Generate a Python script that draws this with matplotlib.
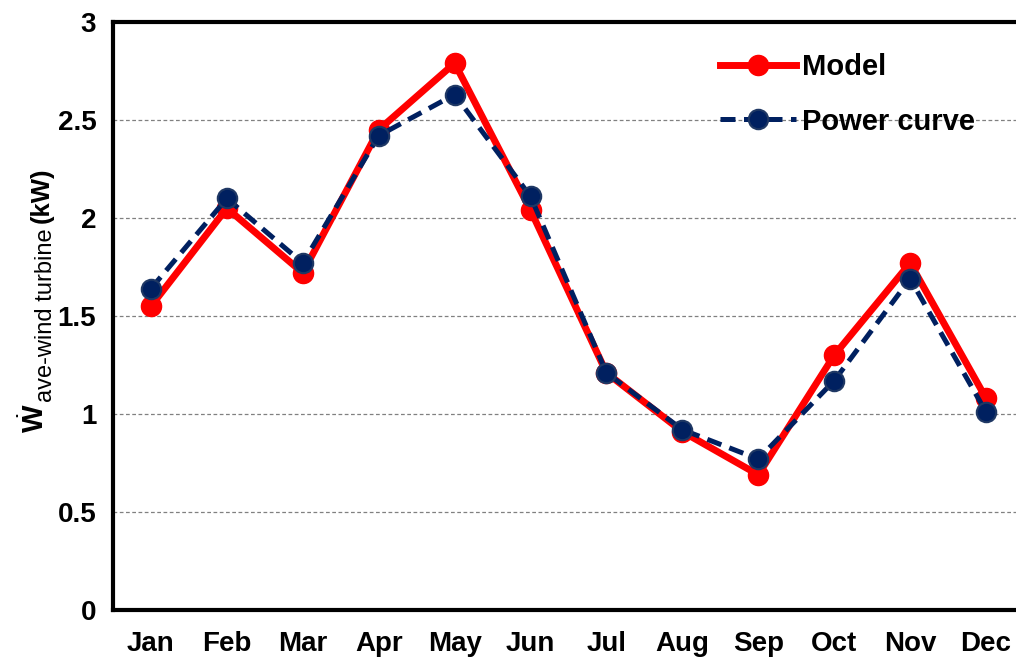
import matplotlib
matplotlib.use("Agg")
import matplotlib.pyplot as plt

months = ["Jan", "Feb", "Mar", "Apr", "May", "Jun", "Jul", "Aug", "Sep", "Oct", "Nov", "Dec"]
model = [1.55, 2.05, 1.72, 2.45, 2.79, 2.04, 1.21, 0.91, 0.69, 1.30, 1.77, 1.08]
power_curve = [1.64, 2.10, 1.77, 2.42, 2.63, 2.11, 1.21, 0.92, 0.77, 1.17, 1.69, 1.01]
yticks = [0, 0.5, 1, 1.5, 2, 2.5, 3]
ytick_labels = ["0", "0.5", "1", "1.5", "2", "2.5", "3"]

plt.rcParams['font.family'] = ['Liberation Sans', 'DejaVu Sans']
plt.rcParams['mathtext.fontset'] = 'custom'
plt.rcParams['mathtext.rm'] = 'Liberation Sans'
plt.rcParams['mathtext.bf'] = 'Liberation Sans:bold'
plt.rcParams['mathtext.it'] = 'Liberation Sans:italic'

W, H = 1016, 660
fig = plt.figure(figsize=(W / 100, H / 100), dpi=100)
ax = fig.add_axes([113 / W, 50 / H, 911 / W, 588 / H])

x = list(range(len(months)))
ax.plot(x, model, color='#FF0000', lw=5, marker='o', ms=14.5, mfc='#FF0000', mec='#FF0000',
        label='Model', zorder=3)
ax.plot(x, power_curve, color='#002060', lw=3.6, ls=(0, (3.0, 1.7)), marker='o', ms=14,
        mfc='#002060', mec='#1F3864', mew=1.5, label='Power curve', zorder=4)

ax.set_xlim(-0.5, 11.5)
ax.set_ylim(0, 3)
ax.set_yticks(yticks)
ax.set_yticklabels(ytick_labels)
ax.set_xticks(x)
ax.set_xticklabels(months)
ax.tick_params(axis='both', length=0, labelsize=20)
ax.tick_params(axis='x', pad=15)
ax.tick_params(axis='y', pad=12)
for lab in ax.get_xticklabels() + ax.get_yticklabels():
    lab.set_fontweight('bold')

ax.yaxis.grid(True, color='#808080', ls=(0, (3, 2)), lw=0.9)
ax.set_axisbelow(True)
for side in ['left', 'top', 'bottom', 'right']:
    ax.spines[side].set_linewidth(3)
    ax.spines[side].set_color('black')

# y-axis label assembled from pieces (large subscript as in the original)
narrow = ['Liberation Sans Narrow', 'Liberation Sans', 'DejaVu Sans']
renderer = fig.canvas.get_renderer()
y0 = H - 433  # pixel from bottom where label starts
t1 = fig.text(44 / W, y0 / H, r'$\dot{\mathbf{W}}$', fontsize=21, rotation=90,
              rotation_mode='anchor', ha='left', va='baseline')
ext = t1.get_window_extent(renderer)
y1 = ext.y1 + 2
t2 = fig.text(52 / W, y1 / H, 'ave-wind turbine', fontsize=17, rotation=90,
              rotation_mode='anchor', ha='left', va='baseline')
ext2 = t2.get_window_extent(renderer)
y2 = ext2.y1 + 5
t3 = fig.text(49 / W, y2 / H, '(kW)', fontsize=18.5, fontweight='bold', rotation=90,
              rotation_mode='anchor', ha='left', va='baseline', family=narrow)

leg = ax.legend(loc='upper left', bbox_to_anchor=(694 / W, 633 / H), bbox_transform=fig.transFigure,
                frameon=False, prop={'weight': 'bold', 'size': 21}, handlelength=2.6,
                handletextpad=0.2, labelspacing=0.9)

fig.savefig('out.png', dpi=100)
